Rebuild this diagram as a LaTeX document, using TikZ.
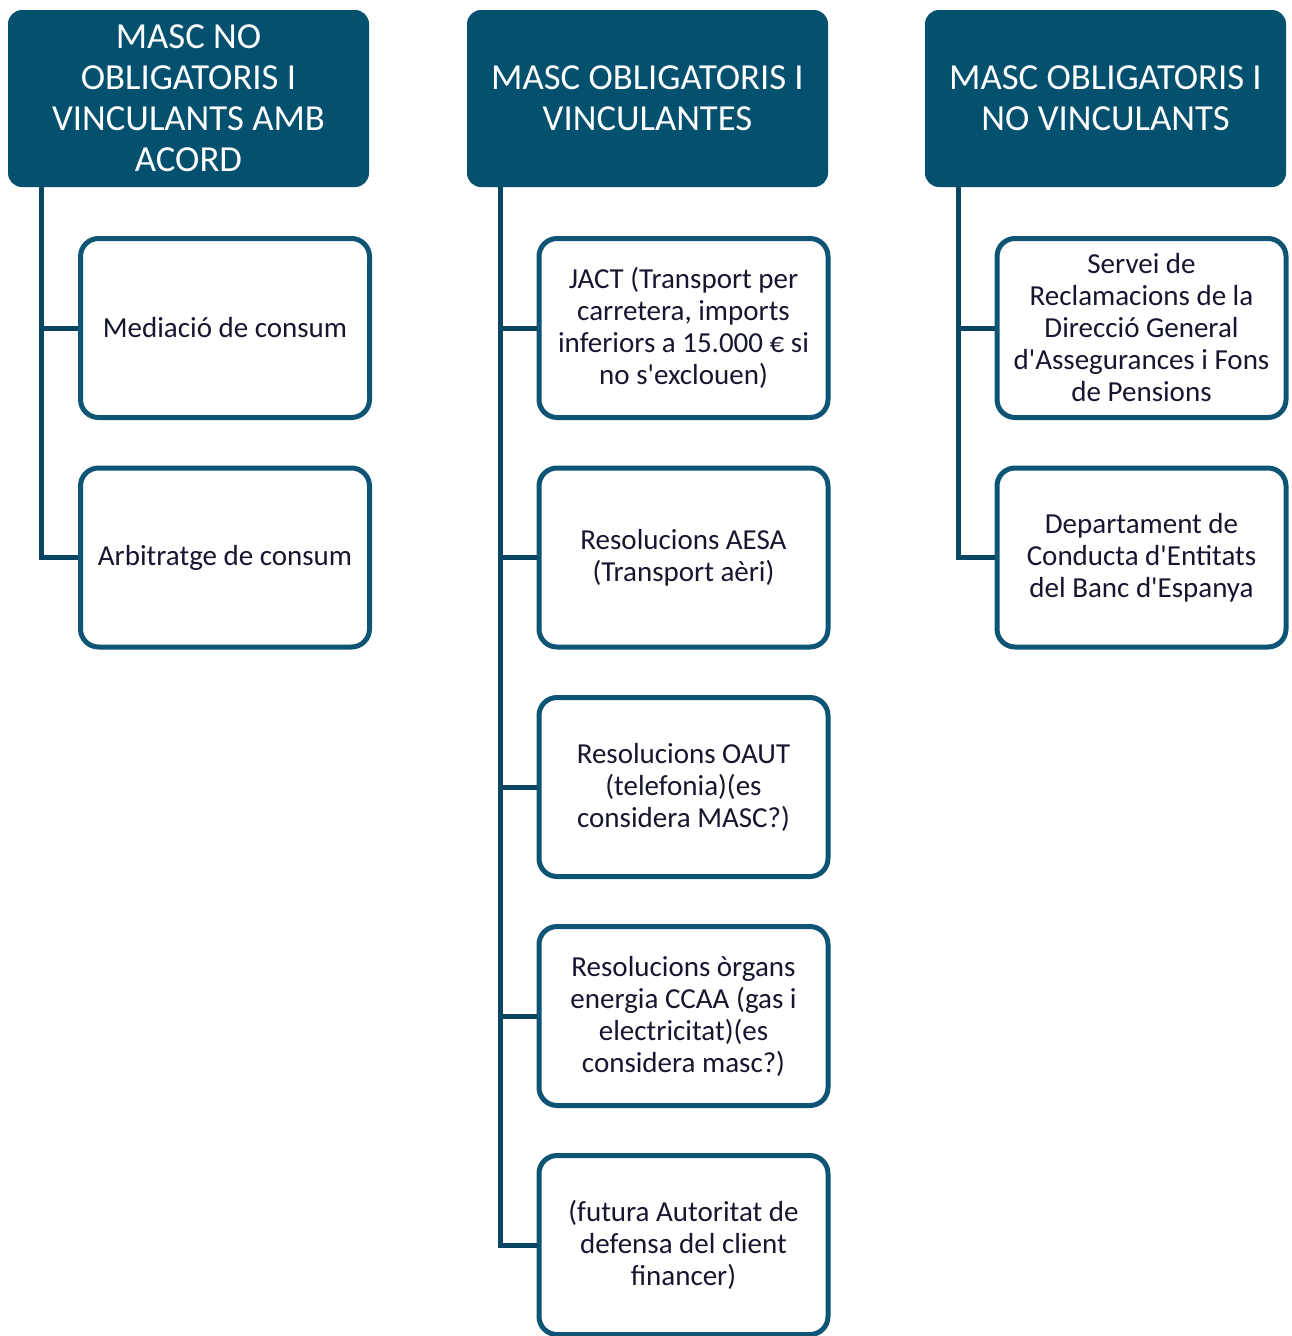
\documentclass[tikz,border=0pt]{standalone}
\usepackage{fontspec}
\setmainfont{Carlito}[Ligatures=TeXOff]

\definecolor{hdrblue}{HTML}{03506F}
\definecolor{leafblue}{HTML}{0E5475}
\definecolor{connblue}{HTML}{0A4562}
\definecolor{txtdark}{HTML}{16162E}

\tikzset{
  header/.style = {shape=rectangle, rounded corners=14pt, fill=hdrblue,
    text=white, align=center, inner sep=0pt,
    minimum width=361pt, minimum height=177pt,
    font=\fontsize{36.7}{41}\selectfont},
  leaf/.style = {shape=rectangle, rounded corners=18pt, draw=leafblue,
    line width=5pt, fill=white, text=txtdark, align=center, inner sep=0pt,
    minimum width=289pt, minimum height=179pt,
    font=\fontsize{29}{32}\selectfont},
  conn/.style = {draw=connblue, line width=5pt}
}

\begin{document}
\begin{tikzpicture}[x=1pt, y=-1pt]
  \useasboundingbox (0,0) rectangle (1291,1336);

  % headers
  \node[header] (hA) at (188.5,98.5) {MASC NO\\OBLIGATORIS I\\VINCULANTS AMB\\ACORD};
  \node[header] (hB) at (647.5,98.5) {MASC OBLIGATORIS I\\VINCULANTES};
  \node[header] (hC) at (1105.5,98.5) {MASC OBLIGATORIS I\\NO VINCULANTS};

  % first column
  \node[leaf] (a1) at (225,328) {Mediació de consum};
  \node[leaf] (a2) at (225,557.5) {Arbitratge de consum};

  % second column
  \node[leaf] (b1) at (683.5,328) {JACT (Transport per\\carretera, imports\\inferiors a 15.000 € si\\no s'exclouen)};
  \node[leaf] (b2) at (683.5,557.5) {Resolucions AESA\\(Transport aèri)};
  \node[leaf] (b3) at (683.5,787) {Resolucions OAUT\\(telefonia)(es\\considera MASC?)};
  \node[leaf] (b4) at (683.5,1016) {Resolucions òrgans\\energia CCAA (gas i\\electricitat)(es\\considera masc?)};
  \node[leaf] (b5) at (683.5,1245) {(futura Autoritat de\\defensa del client\\financer)};

  % third column
  \node[leaf] (c1) at (1141.5,328) {Servei de\\Reclamacions de la\\Direcció General\\d'Assegurances i Fons\\de Pensions};
  \node[leaf] (c2) at (1141.5,557.5) {Departament de\\Conducta d'Entitats\\del Banc d'Espanya};

  % connectors
  \foreach \p/\c in {hA/a1, hA/a2, hB/b1, hB/b2, hB/b3, hB/b4, hB/b5, hC/c1, hC/c2}
    \draw[conn] ([xshift=34pt]\p.south west) |- (\c.west);
\end{tikzpicture}
\end{document}
